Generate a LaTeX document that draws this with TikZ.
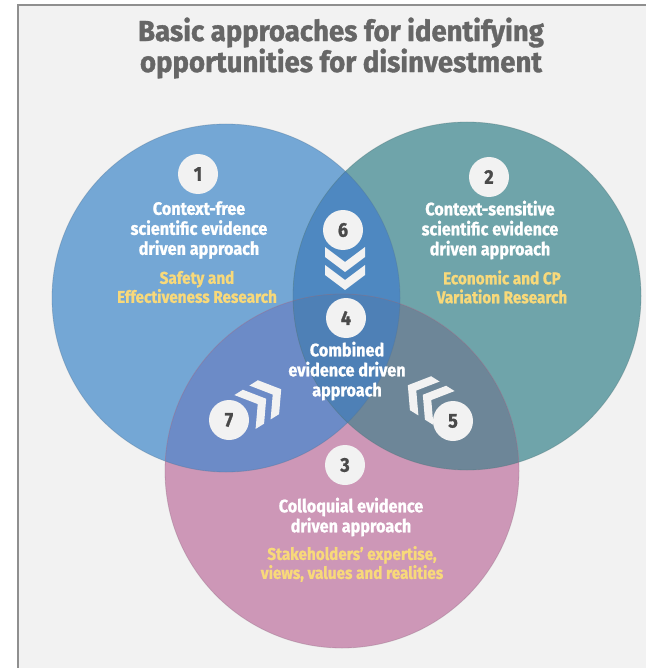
\documentclass[tikz,border=0pt]{standalone}
\usepackage{fontspec}
\setmainfont{Fira Sans}
\newfontfamily\ttlfont{Fira Sans}[FakeStretch=0.95, BoldFeatures={FakeBold=1.2}]
\newfontfamily\bdyfont{Fira Sans}[FakeStretch=0.9, BoldFeatures={FakeBold=1.0}]
\definecolor{bgc}{HTML}{F2F2F2}
\definecolor{framec}{HTML}{8F8F8F}
\definecolor{ttlc}{HTML}{666666}
\definecolor{cA}{HTML}{74A7D5}
\definecolor{cB}{HTML}{6FA4AA}
\definecolor{cC}{HTML}{CD97B7}
\definecolor{cAB}{HTML}{4E88C1}
\definecolor{cAC}{HTML}{6C8BC7}
\definecolor{cBC}{HTML}{6D8698}
\definecolor{cABC}{HTML}{4E80B6}
\definecolor{ylw}{HTML}{F8D97A}
\definecolor{numbg}{HTML}{F2F2F2}
\definecolor{numtx}{HTML}{4A4A4A}
\definecolor{chevc}{HTML}{F2F2F2}
\begin{document}
\begin{tikzpicture}[x=1pt,y=-1pt,
  numdot/.style={circle, fill=numbg, minimum size=40pt, inner sep=0pt,
    text=numtx, font=\bdyfont\bfseries\fontsize{20}{20}\selectfont},
  wtext/.style={text=white, align=center,
    font=\bdyfont\bfseries\fontsize{18}{20}\selectfont},
  ytext/.style={text=ylw, align=center,
    font=\bdyfont\bfseries\fontsize{17}{19}\selectfont},
  ttext/.style={text=ttlc, align=center,
    font=\ttlfont\bfseries\fontsize{29}{31}\selectfont},
  chev/.pic={\fill[chevc] (0,-20) -- (15,0) -- (0,20) -- (10,20) -- (25,0) -- (10,-20) -- cycle;},
  ring/.style={line width=0.8pt, opacity=0.35}
]
\useasboundingbox (0,0) rectangle (646,668);
\fill[white] (0,0) rectangle (646,668);
\fill[bgc] (18,5) rectangle (646,668);
\draw[framec, line width=2pt] (18,668) -- (18,5) -- (646,5);

\coordinate (cc1) at (226,298);
\coordinate (cc2) at (467,296);
\coordinate (cc3) at (342,471);
\def\rA{174pt}
\def\rB{174pt}
\def\rC{177pt}

% base circles
\fill[cA] (cc1) circle[radius=\rA];
\fill[cB] (cc2) circle[radius=\rB];
\fill[cC] (cc3) circle[radius=\rC];
% overlaps
\begin{scope}
  \clip (cc1) circle[radius=\rA];
  \fill[cAB] (cc2) circle[radius=\rB];
  \fill[cAC] (cc3) circle[radius=\rC];
\end{scope}
\begin{scope}
  \clip (cc2) circle[radius=\rB];
  \fill[cBC] (cc3) circle[radius=\rC];
\end{scope}
\begin{scope}
  \clip (cc1) circle[radius=\rA];
  \clip (cc2) circle[radius=\rB];
  \fill[cABC] (cc3) circle[radius=\rC];
\end{scope}
\draw[ring, draw=cA!70!black] (cc1) circle[radius=\rA];
\draw[ring, draw=cB!70!black] (cc2) circle[radius=\rB];
\draw[ring, draw=cC!70!black] (cc3) circle[radius=\rC];

% title
\node[ttext] (title) at (341,48) {Basic approaches for identifying\\opportunities for disinvestment};

% number dots
\node[numdot] (n1) at (198,174) {1};
\node[numdot] (n2) at (489,177) {2};
\node[numdot] (n6) at (343,230) {6};
\node[numdot] (n4) at (346,318) {4};
\node[numdot] (n7) at (229,420) {7};
\node[numdot] (n5) at (453,421) {5};
\node[numdot] (n3) at (345,465) {3};

% chevrons
\pic[rotate=-90] at (345,247) {chev};
\pic[rotate=-90] at (345,265) {chev};
\pic[rotate=32] at (245,412) {chev};
\pic[rotate=32] at (260,402.5) {chev};
\pic[rotate=148] at (444,408) {chev};
\pic[rotate=148] at (429,398.5) {chev};

% texts
\node[wtext] (t1) at (199,230) {Context-free\\scientific evidence\\driven approach};
\node[ytext] (y1) at (197,287) {Safety and\\Effectiveness Research};
\node[wtext] (t2) at (490,230) {Context-sensitive\\scientific evidence\\driven approach};
\node[ytext] (y2) at (502,287) {Economic and CP\\Variation Research};
\node[wtext] (t4) at (347,371) {Combined\\evidence driven\\approach};
\node[wtext] (t3) at (351,517) {Colloquial evidence\\driven approach};
\node[ytext] (y3) at (352,564) {Stakeholders’ expertise,\\views, values and realities};
\end{tikzpicture}
\end{document}
